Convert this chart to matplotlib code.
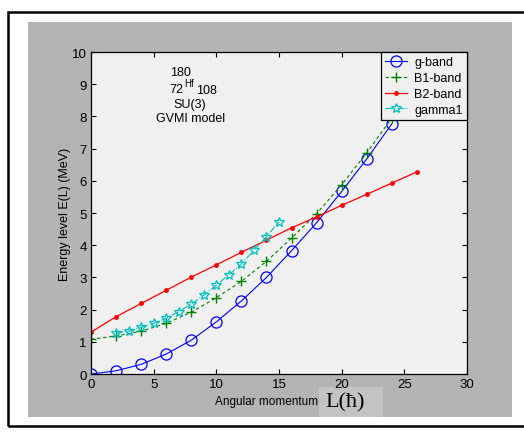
import matplotlib
matplotlib.use('Agg')
import matplotlib.pyplot as plt
from matplotlib.patches import Rectangle

# g-band (ground band)
L_g = [0, 2, 4, 6, 8, 10, 12, 14, 16, 18, 20, 22, 24]
E_g = [0.0, 0.1, 0.3, 0.62, 1.05, 1.62, 2.27, 3.0, 3.83, 4.7, 5.67, 6.68, 7.77]

# B1-band
L_b1 = [0, 2, 4, 6, 8, 10, 12, 14, 16, 18, 20, 22, 24]
E_b1 = [1.08, 1.18, 1.33, 1.57, 1.92, 2.37, 2.88, 3.5, 4.22, 4.98, 5.88, 6.87, 7.95]

# B2-band
L_b2 = [0, 2, 4, 6, 8, 10, 12, 14, 16, 18, 20, 22, 24, 26]
E_b2 = [1.3, 1.78, 2.19, 2.6, 3.01, 3.39, 3.78, 4.16, 4.54, 4.88, 5.24, 5.58, 5.93, 6.28]

# gamma1 band
L_gam = [2, 3, 4, 5, 6, 7, 8, 9, 10, 11, 12, 13, 14, 15]
E_gam = [1.27, 1.33, 1.45, 1.57, 1.73, 1.94, 2.17, 2.45, 2.76, 3.08, 3.42, 3.84, 4.26, 4.73]

xticks = [0, 5, 10, 15, 20, 25, 30]
yticks = list(range(0, 11))

plt.rcParams['font.family'] = ['Liberation Sans', 'DejaVu Sans']


def main():
    fig = plt.figure(figsize=(5.24, 4.35), dpi=100)
    fig.patch.set_facecolor('white')

    # outer frame and grey figure area
    fig.patches.append(Rectangle((0.0153, 0.0184), 1.2, 0.952, transform=fig.transFigure,
                                 fill=False, edgecolor='black', linewidth=1.8, zorder=-2))
    fig.patches.append(Rectangle((0.0534, 0.039), 0.9236, 0.908, transform=fig.transFigure,
                                 facecolor='#b4b4b4', edgecolor='none', zorder=-2))
    fig.patches.append(Rectangle((0.609, 0.039), 0.122, 0.069, transform=fig.transFigure,
                                 facecolor='#c3c3c3', edgecolor='none', zorder=-1))

    ax = fig.add_axes([0.1737, 0.1379, 0.7176, 0.7402])
    ax.set_zorder(1)
    ax.set_facecolor('#f0f0f0')

    ax.plot(L_g, E_g, color='blue', linestyle='-', linewidth=0.8, marker='o',
            markersize=8, markerfacecolor='none', markeredgewidth=0.9, label='g-band')
    ax.plot(L_b1, E_b1, color='green', linestyle=(0, (3, 2.5)), linewidth=0.8, marker='+',
            markersize=7.5, markeredgewidth=1.0, label='B1-band')
    ax.plot(L_b2, E_b2, color='red', linestyle='-', linewidth=0.9, marker='.',
            markersize=5, label='B2-band')
    ax.plot(L_gam, E_gam, color='#00bfbf', linestyle='-.', linewidth=0.8, marker='*',
            markersize=7.5, markerfacecolor='none', markeredgewidth=0.9, label='gamma1')

    ax.set_xlim(0, 30)
    ax.set_ylim(0, 10)
    ax.set_xticks(xticks)
    ax.set_yticks(yticks)
    ax.tick_params(direction='in', top=True, right=True, length=3.6, labelsize=9.5, pad=3)
    for s in ax.spines.values():
        s.set_linewidth(0.9)

    ax.set_ylabel('Energy level E(L) (MeV)', fontsize=9, labelpad=1)

    # nucleus label
    ax.text(6.3, 9.29, '180', fontsize=9)
    ax.text(6.22, 8.77, '72', fontsize=9)
    ax.text(7.42, 8.94, 'Hf', fontsize=7)
    ax.text(8.38, 8.72, '108', fontsize=9)
    ax.text(7.9, 8.29, 'SU(3)', fontsize=9, ha='center')
    ax.text(7.98, 7.86, 'GVMI model', fontsize=9, ha='center')

    fig.text(0.508, 0.075, 'Angular momentum', fontsize=8.5, ha='center', va='center')
    fig.text(0.62, 0.074, 'L(ħ)', fontsize=16, ha='left', va='center',
             family=['Liberation Serif', 'DejaVu Serif'])

    leg = ax.legend(loc='upper right', fontsize=9, frameon=True, fancybox=False,
                    borderaxespad=0.0, handlelength=1.7, labelspacing=0.3,
                    borderpad=0.35, handletextpad=0.6)
    leg.get_frame().set_edgecolor('black')
    leg.get_frame().set_facecolor('#f0f0f0')
    leg.get_frame().set_linewidth(0.9)
    leg.get_frame().set_alpha(1)

    fig.savefig('out.png', dpi=100)


if __name__ == "__main__":
    main()
